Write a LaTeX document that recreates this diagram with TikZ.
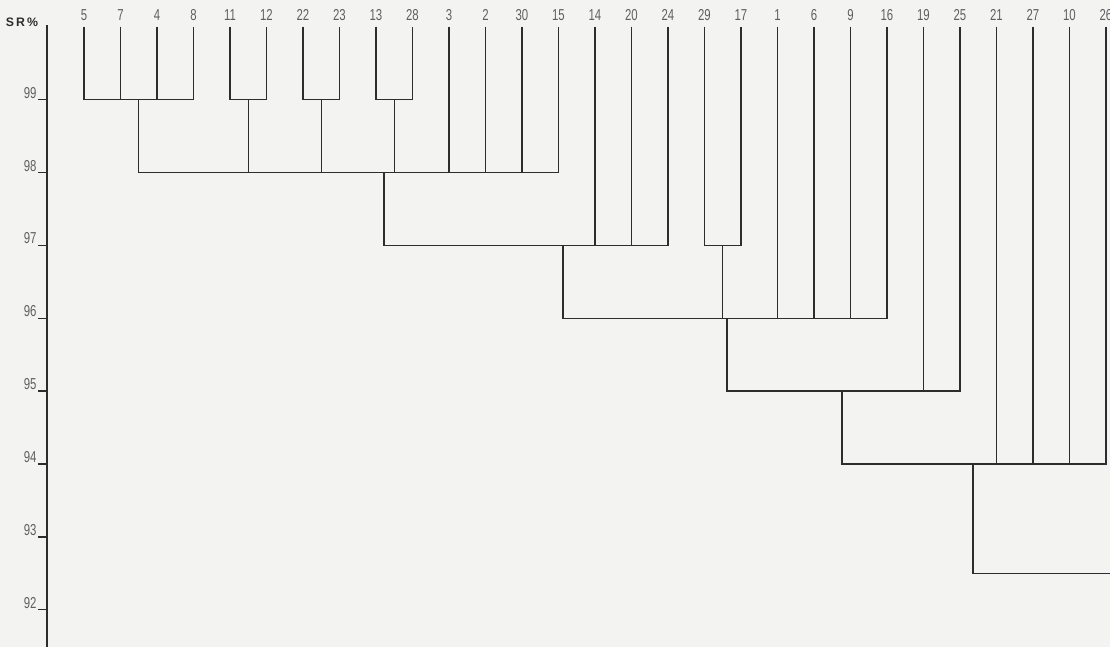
\documentclass[tikz,border=0pt]{standalone}
\usepackage{fontspec}
\newfontfamily\narrowsf{Liberation Sans}[FakeStretch=0.72]
\newfontfamily\boldsf{Liberation Sans}
\usetikzlibrary{positioning}
\definecolor{paper}{RGB}{243,243,241}
\definecolor{ink}{RGB}{45,45,45}
\definecolor{pencil}{RGB}{95,95,95}
\tikzset{den/.style={draw=ink, line width=1.1pt},
  leaf/.style={anchor=south, inner sep=0pt, outer sep=5pt, text=pencil, font=\narrowsf\fontsize{13.5}{13.5}\selectfont},
  ticklab/.style={anchor=south east, inner sep=0.5pt, text=pencil, font=\narrowsf\fontsize{13.5}{13.5}\selectfont}}

\begin{document}
\begin{tikzpicture}[x=1.095cm, y=2.187cm]
  \fill[paper] (-2.301,1.365) rectangle (28.11,-7.51);
  \useasboundingbox (-2.301,1.365) rectangle (28.11,-7.51);
  % axis
  \draw[den, line width=1.5pt] (-1.014,1.022) coordinate (atop) -- (-1.014,-7.51) coordinate (abot);
  \foreach \v [count=\k from 0] in {99,98,97,96,95,94,93,92}
    \draw[den] (-1.014,-\k) -- ++(-0.255,0) node[ticklab] (t\v) {\v};
  \node[font=\boldsf\bfseries\fontsize{10.5}{10.5}\selectfont, text=ink] (sr) at (-1.70,1.056) {S\,R\,\%};
  % leaves
  \foreach \n [count=\i from 0] in {5,7,4,8,11,12,22,23,13,28,3,2,30,15,14,20,24,29,17,1,6,9,16,19,25,21,27,10,26}
    \node[leaf] (l\n) at (\i,1) {\n};
  \coordinate (a) at (1.5,0);
  \coordinate (b) at (4.5,0);
  \coordinate (c) at (6.5,0);
  \coordinate (d) at (8.5,0);
  \coordinate (e) at (8.22,-1);
  \coordinate (f) at (13.12,-2);
  \coordinate (g) at (17.5,-2);
  \coordinate (h) at (17.62,-3);
  \coordinate (i) at (20.77,-4);
  \coordinate (j) at (24.36,-5);
  \coordinate (k) at (24.36,-6.5);
  \coordinate (kend) at (28.11,-6.5);
  % 99
  \draw[den] (l5.south) |- (a) -| (l8.south);
  \draw[den] (l7.south) -- (l7.south |- a);
  \draw[den] (l4.south) -- (l4.south |- a);
  \draw[den] (l11.south) |- (b) -| (l12.south);
  \draw[den] (l22.south) |- (c) -| (l23.south);
  \draw[den] (l13.south) |- (d) -| (l28.south);
  % 98
  \draw[den] (a) |- (e) -| (l15.south);
  \draw[den] (b) -- (b |- e);
  \draw[den] (c) -- (c |- e);
  \draw[den] (d) -- (d |- e);
  \draw[den] (l3.south) -- (l3.south |- e);
  \draw[den] (l2.south) -- (l2.south |- e);
  \draw[den] (l30.south) -- (l30.south |- e);
  % 97
  \draw[den] (e) |- (f) -| (l24.south);
  \draw[den] (l14.south) -- (l14.south |- f);
  \draw[den] (l20.south) -- (l20.south |- f);
  \draw[den] (l29.south) |- (g) -| (l17.south);
  % 96
  \draw[den] (f) |- (h) -| (l16.south);
  \draw[den] (g) -- (g |- h);
  \draw[den] (l1.south) -- (l1.south |- h);
  \draw[den] (l6.south) -- (l6.south |- h);
  \draw[den] (l9.south) -- (l9.south |- h);
  % 95
  \draw[den] (h) |- (i) -| (l25.south);
  \draw[den] (l19.south) -- (l19.south |- i);
  % 94
  \draw[den] (i) |- (j) -| (l26.south);
  \draw[den] (l21.south) -- (l21.south |- j);
  \draw[den] (l27.south) -- (l27.south |- j);
  \draw[den] (l10.south) -- (l10.south |- j);
  \draw[den] (j) -- (k) -- (kend);
\end{tikzpicture}
\end{document}
